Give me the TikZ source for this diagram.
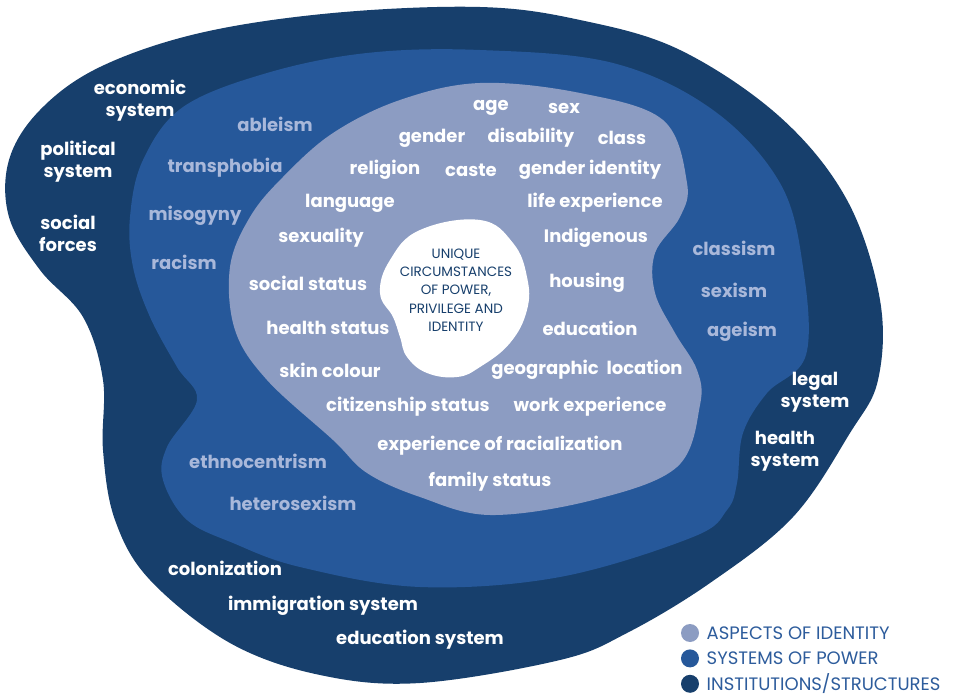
\documentclass[tikz,border=0pt]{standalone}
\usepackage{fontspec}
\setmainfont{Poppins}
\usetikzlibrary{positioning}
\definecolor{navy}{HTML}{173F6C}
\definecolor{midblue}{HTML}{26589A}
\definecolor{lightblob}{HTML}{8C9CC2}
\definecolor{powertxt}{HTML}{A9B8DA}
\definecolor{legendtxt}{HTML}{2D5C9C}
\tikzset{
  institution/.style={text=white,font=\bfseries\fontsize{18}{22}\selectfont,align=center},
  power/.style={text=powertxt,font=\bfseries\fontsize{18}{22}\selectfont},
  aspect/.style={text=white,font=\bfseries\fontsize{18}{22}\selectfont},
  legenddot/.style={circle,inner sep=0pt,minimum size=18pt},
  legendlabel/.style={text=legendtxt,font=\fontsize{18}{20}\selectfont,anchor=west,inner ysep=0pt},
}
\begin{document}
\begin{tikzpicture}[x=1pt,y=-1pt]
	\useasboundingbox[fill=white] (0,0) rectangle (959,700);
	% outer blob
	\fill[navy] plot[smooth cycle,tension=0.6] coordinates {
		(480,7) (580,20) (680,50) (780,117) (847,200) (880,300) (878,380)
		(850,433) (793,517) (710,583) (627,633) (560,660) (420,683) (320,675)
		(230,643) (150,580) (115,520) (103,450) (103,380) (83,317) (40,270)
		(9,217) (9,160) (40,110) (100,67) (200,33) (333,13)};
	% systems of power
	\fill[midblue] plot[smooth cycle,tension=0.6] coordinates {
		(480,50) (613,63) (713,110) (780,183) (803,267) (806,355) (767,393)
		(743,433) (737,483) (727,510) (693,537) (560,577) (420,587) (300,567)
		(233,543) (187,520) (163,480) (167,447) (197,400) (177,367) (150,317)
		(133,267) (130,217) (143,160) (183,107) (267,73) (367,53)};
	% aspects of identity
	\fill[lightblob] plot[smooth cycle,tension=0.6] coordinates {
		(480,83) (580,93) (663,120) (687,183) (680,217) (655,253) (655,293)
		(675,333) (697,370) (700,405) (677,467) (593,500) (490,515) (420,497)
		(367,473) (333,440) (267,380) (235,330) (230,267) (250,217) (283,177)
		(333,133) (400,100)};
	% centre
	\fill[white] plot[smooth cycle,tension=0.7] coordinates {
		(480,220) (513,243) (527,277) (527,310) (510,343) (480,367) (457,377)
		(427,373) (407,357) (400,337) (393,317) (380,293) (390,260) (420,230)};
	\node[text=navy,align=center,font=\fontsize{13.5}{18.3}\selectfont] (unique) at (456,290)
		{UNIQUE\\CIRCUMSTANCES\\OF POWER,\\PRIVILEGE AND\\IDENTITY};
	% institutions / structures
	\foreach \p/\t [count=\i] in {(140,101)/economic\\system,(78,162)/political\\system,
		(68,233)/social\\forces,(225,568)/colonization,(323,606)/immigration system,
		(420,640)/education system,(815,392)/legal\\system,(785,451)/health\\system}
		\node[institution] (inst\i) at \p {\t};
	% systems of power
	\foreach \p/\t [count=\i] in {(275,124)/ableism,(225,168)/transphobia,(195,216)/misogyny,
		(184,262)/racism,(258,461)/ethnocentrism,(293,503)/heterosexism,
		(734,248)/classism,(734,290)/sexism,(742,332)/ageism}
		\node[power] (pow\i) at \p {\t};
	% aspects of identity
	\foreach \p/\t [count=\i] in {(491,108)/age,(564,108)/sex,(432,138)/gender,
		(531,138)/disability,(622,138)/class,(385,170)/religion,(471,170)/caste,
		(590,170)/gender identity,(350,203)/language,(595,203)/life experience,
		(321,238)/sexuality,(596,238)/Indigenous,(308,283)/social status,
		(587,283)/housing,(328,328)/health status,(590,328)/education,
		(330,370)/skin colour,(587,370)/geographic\ \ location,
		(408,407)/citizenship status,(590,407)/work experience,
		(500,446)/experience of racialization,(490,482)/family status}
		\node[aspect] (asp\i) at \p {\t};
	% legend
	\node[legenddot,fill=lightblob] (dotA) at (690,633) {};
	\node[legenddot,fill=midblue,below=7pt of dotA] (dotB) {};
	\node[legenddot,fill=navy,below=7pt of dotB] (dotC) {};
	\node[legendlabel] (legA) at ([xshift=4pt]dotA.east) {ASPECTS OF IDENTITY};
	\node[legendlabel] (legB) at ([xshift=4pt]dotB.east) {SYSTEMS OF POWER};
	\node[legendlabel] (legC) at ([xshift=4pt]dotC.east) {INSTITUTIONS/STRUCTURES};
\end{tikzpicture}
\end{document}
